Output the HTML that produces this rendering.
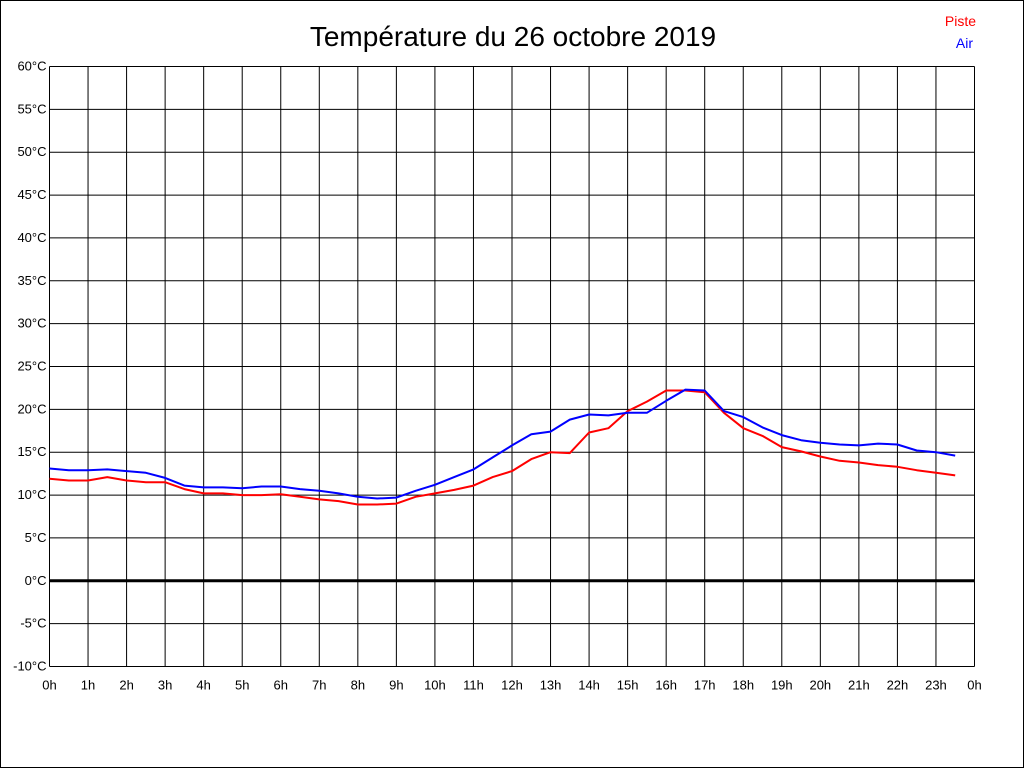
<!DOCTYPE html>
<html><head><meta charset="utf-8"><style>
html,body{margin:0;padding:0;background:#fff}
svg{display:block;font-family:"Liberation Sans",Arial,sans-serif}
</style></head><body>
<svg id="chart" width="1024" height="768" viewBox="0 0 1024 768">
<rect x="0.5" y="0.5" width="1023" height="767" fill="#fff" stroke="#000"/>
<text x="513" y="46" font-size="28" text-anchor="middle" fill="#000">Température du 26 octobre 2019</text>
<text x="976" y="26" font-size="14" text-anchor="end" fill="#ff0000">Piste</text>
<text x="973" y="48" font-size="14" text-anchor="end" fill="#0000ff">Air</text>
<g id="grid"></g><g id="series"></g>
</svg>
<script>
const hours = [0,0.5,1,1.5,2,2.5,3,3.5,4,4.5,5,5.5,6,6.5,7,7.5,8,8.5,9,9.5,10,10.5,11,11.5,12,12.5,13,13.5,14,14.5,15,15.5,16,16.5,17,17.5,18,18.5,19,19.5,20,20.5,21,21.5,22,22.5,23,23.5];
const airTemps = [13.1,12.9,12.9,13.0,12.8,12.6,12.0,11.1,10.9,10.9,10.8,11.0,11.0,10.7,10.5,10.2,9.8,9.6,9.7,10.5,11.2,12.1,13.0,14.4,15.8,17.1,17.4,18.8,19.4,19.3,19.6,19.6,21.0,22.3,22.2,19.8,19.1,17.9,17.0,16.4,16.1,15.9,15.8,16.0,15.9,15.2,15.0,14.6];
const pisteTemps = [11.9,11.7,11.7,12.1,11.7,11.5,11.5,10.7,10.2,10.2,10.0,10.0,10.1,9.8,9.5,9.3,8.9,8.9,9.0,9.8,10.2,10.6,11.1,12.1,12.8,14.2,15.0,14.9,17.3,17.8,19.8,20.9,22.2,22.2,22.0,19.6,17.8,16.9,15.6,15.1,14.5,14.0,13.8,13.5,13.3,12.9,12.6,12.3];
const yTicks = [60,55,50,45,40,35,30,25,20,15,10,5,0,-5,-10];
const xTickLabels = ["0h","1h","2h","3h","4h","5h","6h","7h","8h","9h","10h","11h","12h","13h","14h","15h","16h","17h","18h","19h","20h","21h","22h","23h","0h"];

const NS="http://www.w3.org/2000/svg";
const L=49.5,R=974.5,T=66.5,B=666.5;
const xs=h=>L+(h/24)*(R-L);
const ys=v=>B-(v+10)/70*(B-T);
const grid=document.getElementById('grid'), ser=document.getElementById('series');
function mk(tag,attrs,parent){const e=document.createElementNS(NS,tag);for(const k in attrs)e.setAttribute(k,attrs[k]);parent.appendChild(e);return e;}
yTicks.forEach(v=>{
  const y=Math.round(ys(v))+ (v===0?0:0.5)-0.5+0.5;
  const ln=mk('line',{x1:L,x2:R,y1:ys(v),y2:ys(v),stroke:'#000','stroke-width':v===0?3:1},grid);
  
  
  const t=mk('text',{x:L-3,y:ys(v)+4,'font-size':13,'text-anchor':'end',fill:'#000'},grid);
  t.textContent=v+'°C';
  
  
});
xTickLabels.forEach((lab,i)=>{
  const ln=mk('line',{x1:xs(i),x2:xs(i),y1:T,y2:B,stroke:'#000','stroke-width':1},grid);
  
  
  const t=mk('text',{x:xs(i),y:B+23,'font-size':13,'text-anchor':'middle',fill:'#000'},grid);
  t.textContent=lab;
  
  
});
function line(vals,color,name){
  const d=vals.map((v,i)=>(i?'L':'M')+xs(hours[i]).toFixed(1)+' '+ys(v).toFixed(1)).join(' ');
  const p=mk('path',{d:d,fill:'none',stroke:color,'stroke-width':2,'stroke-linejoin':'round'},ser);
  
  
}
line(pisteTemps,'#ff0000','piste-line');
line(airTemps,'#0000ff','air-line');
</script>
</body></html>
